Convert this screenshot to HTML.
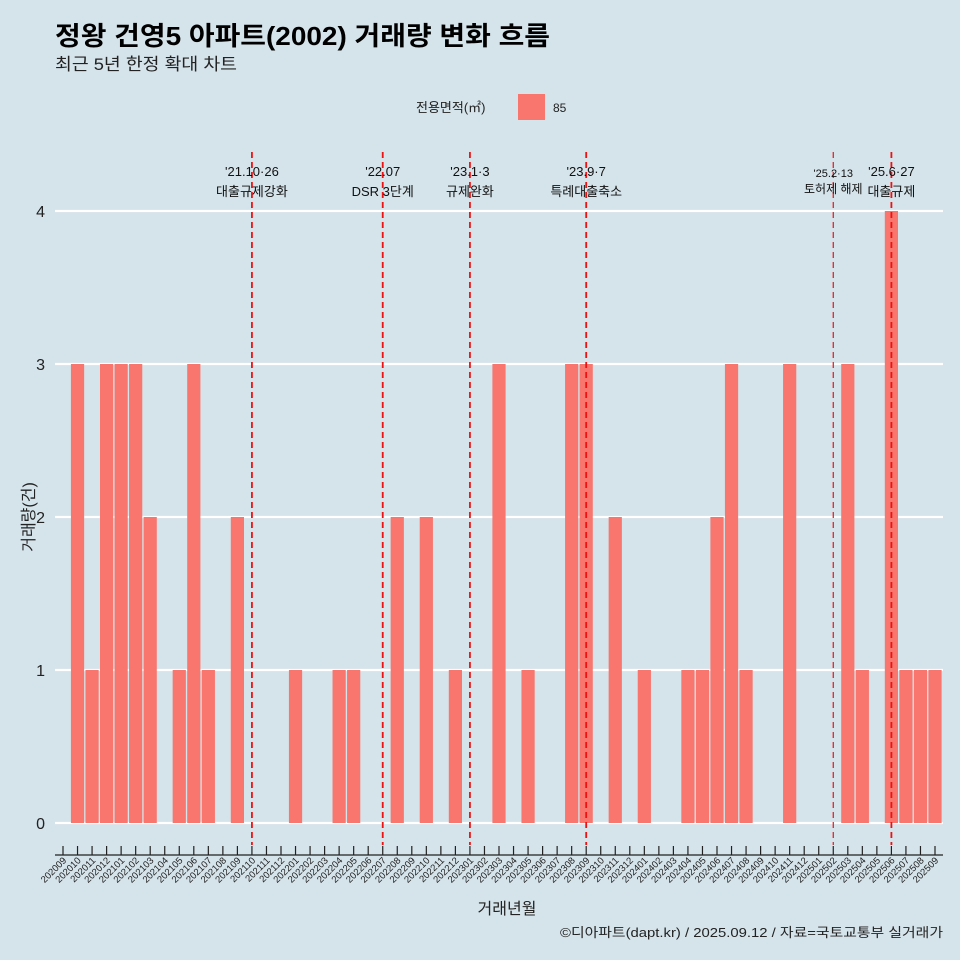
<!DOCTYPE html>
<html><head><meta charset="utf-8"><style>
body{margin:0;background:#d5e3ea;}
svg{display:block;font-family:"Liberation Sans","Noto Sans CJK KR",sans-serif;}
</style></head><body>
<svg id="chart" width="960" height="960" viewBox="0 0 960 960">
<rect width="960" height="960" fill="#d5e3ea"/>
<text x="55" y="45" font-size="26" font-weight="bold" fill="#000" textLength="495" lengthAdjust="spacingAndGlyphs">정왕 건영5 아파트(2002) 거래량 변화 흐름</text>
<text x="55" y="70" font-size="17" fill="#222" textLength="182" lengthAdjust="spacingAndGlyphs">최근 5년 한정 확대 차트</text>
<g>
<text x="416" y="112" font-size="13" fill="#222">전용면적(㎡)</text>
<rect x="518" y="94" width="27" height="26" fill="#f8766d"/>
<text x="553" y="112" font-size="12" fill="#222">85</text>
</g>
<g id="grid"></g><g id="bars"></g><g id="events"></g><g id="xaxis"></g><g id="yaxis"></g>
<text x="507" y="914" font-size="16" text-anchor="middle" fill="#222">거래년월</text>
<text transform="translate(34,517) rotate(-90)" font-size="16" text-anchor="middle" fill="#222">거래량(건)</text>
<text x="560" y="937" font-size="13" fill="#222" textLength="383" lengthAdjust="spacingAndGlyphs">©디아파트(dapt.kr) / 2025.09.12 / 자료=국토교통부 실거래가</text>
</svg>
<script>
const categories=["202009","202010","202011","202012","202101","202102","202103","202104","202105","202106","202107","202108","202109","202110","202111","202112","202201","202202","202203","202204","202205","202206","202207","202208","202209","202210","202211","202212","202301","202302","202303","202304","202305","202306","202307","202308","202309","202310","202311","202312","202401","202402","202403","202404","202405","202406","202407","202408","202409","202410","202411","202412","202501","202502","202503","202504","202505","202506","202507","202508","202509"];
const counts=[0,3,1,3,3,3,2,0,1,3,1,0,2,0,0,0,1,0,0,1,1,0,0,2,0,2,0,1,0,0,3,0,1,0,0,3,3,0,2,0,1,0,0,1,1,2,3,1,0,0,3,0,0,0,3,1,0,4,1,1,1];
const yTicks=[0,1,2,3,4];
const eventMonths=["202110","202207","202301","202309","202502","202506"];
const eventDates=["'21.10·26","'22.07","'23.1·3","'23.9·7","'25.2·13","'25.6·27"];
const eventLabels=["대출규제강화","DSR 3단계","규제완화","특례대출축소","토허제 해제","대출규제"];
const NS="http://www.w3.org/2000/svg";
const x0=63,step=(935-63)/60,yZero=823,yUnit=153;
const X=c=>x0+categories.indexOf(c)*step;
const Y=v=>yZero-v*yUnit;
function mk(t,a,p){const e=document.createElementNS(NS,t);for(const k in a)e.setAttribute(k,a[k]);document.getElementById(p).appendChild(e);return e;}
yTicks.forEach(v=>{
 const l=mk("line",{x1:55,x2:943,y1:Y(v),y2:Y(v),stroke:"#fff","stroke-width":2.2},"grid");
 
 
 const t=mk("text",{x:45,y:Y(v)+6,"font-size":16,"text-anchor":"end",fill:"#222"},"yaxis");
 t.textContent=v;
 
 
});
categories.forEach((c,i)=>{
 const v=counts[i];
 if(v>0){const r=mk("rect",{x:X(c)-6.6,y:Y(v),width:13.2,height:v*yUnit,fill:"#f8766d"},"bars");
 
 }
 const tk=mk("line",{x1:X(c),x2:X(c),y1:846,y2:855,stroke:"#222","stroke-width":1.2},"xaxis");
 
 
 const t=mk("text",{transform:`translate(${X(c)+4},861) rotate(-45)`,"font-size":9.5,"text-anchor":"end",fill:"#222"},"xaxis");
 t.textContent=c;
 
 
});
const ax=mk("line",{x1:55,x2:943,y1:855,y2:855,stroke:"#222","stroke-width":1.2},"xaxis");


eventMonths.forEach((m,i)=>{
 const x=X(m),small=(m==="202502");
 const l=mk("line",{x1:x,x2:x,y1:152,y2:845,stroke:"#ee1111","stroke-width":small?1.2:1.8,"stroke-dasharray":"6,4"},"events");
 
 
 const t1=mk("text",{x:x,y:small?177:176,"font-size":small?11:13,"text-anchor":"middle",fill:"#111"},"events");
 t1.textContent=eventDates[i];
 
 
 const t2=mk("text",{x:x,y:small?193:196,"font-size":small?12:13,"text-anchor":"middle",fill:"#111"},"events");
 t2.textContent=eventLabels[i];
 
 
});
</script>
</body></html>
